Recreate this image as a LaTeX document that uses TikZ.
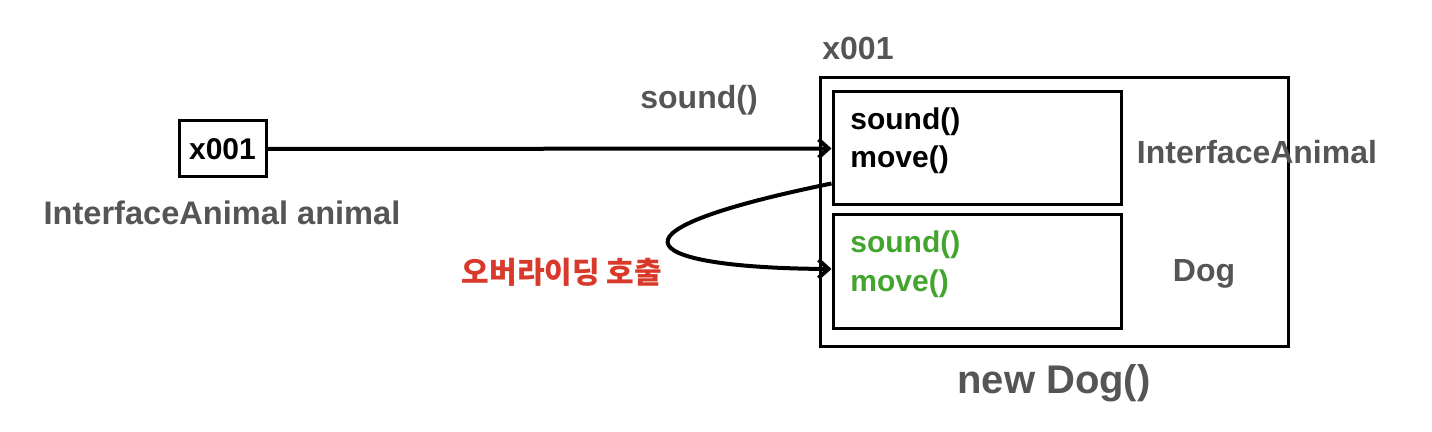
\documentclass[tikz,border=0pt]{standalone}
\usepackage{fontspec}
\setmainfont{Liberation Sans}
\newfontfamily\krfont{Noto Sans CJK KR}
\usetikzlibrary{arrows.meta,positioning,calc}
\definecolor{labelgray}{HTML}{555555}
\definecolor{overgreen}{HTML}{43A52E}
\definecolor{callred}{HTML}{D9392B}

\begin{document}
\begin{tikzpicture}[x=0.5pt,y=-0.5pt,
  box/.style={draw,line width=1.5pt,inner sep=0pt},
  ptr/.style={line width=2pt,-{Straight Barb[length=5pt,width=9pt]}},
  lbl/.style={font=\fontsize{16}{19}\selectfont\bfseries,text=labelgray,inner sep=0pt},
  code/.style={font=\fontsize{15}{19}\selectfont\bfseries,inner sep=0pt,anchor=base west}]
  \useasboundingbox (0,0) rectangle (1432,432);

  % Stack: reference variable
  \node[box,minimum width=43.5pt,minimum height=28pt] (ref) at (222.5,149) {};
  \node[code,anchor=center] (refval) at (ref) {x001};
  \node[lbl,font=\fontsize{16.3}{19}\selectfont\bfseries] (refname) at (222,213) {InterfaceAnimal animal};

  % Heap: the Dog instance at x001
  \node[lbl,anchor=west] (addr) at (822,48) {x001};
  \node[box,minimum width=234pt,minimum height=134.5pt] (obj) at (1054,212.5) {};
  \node[box,minimum width=144pt,minimum height=56.5pt] (iface) at (977,148.5) {};
  \node[box,minimum width=144pt,minimum height=57pt] (dog) at (977,272) {};
  \node[code] (isound) at (850,130) {sound()};
  \node[code] (imove) at (850,168) {move()};
  \node[code,text=overgreen] (dsound) at (850,253) {sound()};
  \node[code,text=overgreen] (dmove) at (850,292) {move()};
  \node[lbl] (ifacename) at (1257,152) {InterfaceAnimal};
  \node[lbl] (dogname) at (1204,274) {Dog};
  \node[lbl,font=\fontsize{20}{24}\selectfont\bfseries] (newdog) at (1054,383) {new Dog()};

  % Calls
  \draw[ptr] (ref.east) -- (iface.west);
  \node[lbl] (call) at (699,100) {sound()};
  \draw[ptr] ($(iface.south west)+(0,-23)$)
    .. controls (580,235) and (650,268) .. ($(dog.west)+(0,-3)$);
  \node[font=\fontsize{15}{18}\krfont\bfseries,text=callred,inner sep=0pt] (override) at (562,272) {오버라이딩 호출};
\end{tikzpicture}
\end{document}
